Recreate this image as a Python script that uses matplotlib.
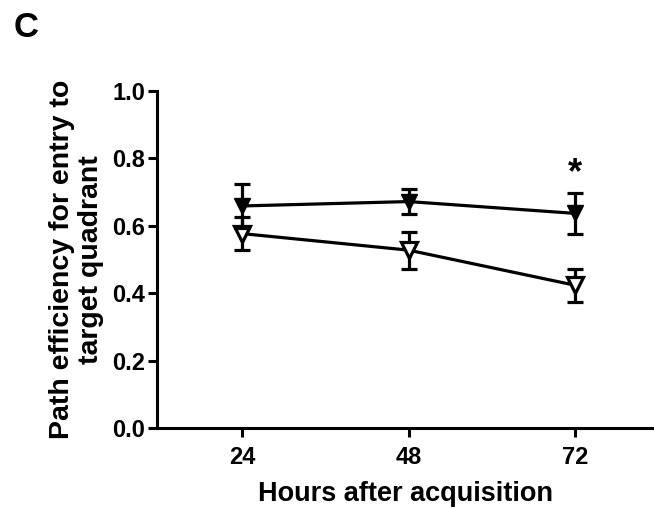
import matplotlib.pyplot as plt
import numpy as np

plt.rcParams['font.family'] = ['Liberation Sans', 'DejaVu Sans']
plt.rcParams['font.weight'] = 'bold'

hours = [24, 48, 72]
filled_mean = [0.659, 0.672, 0.637]
filled_sem = [0.065, 0.037, 0.061]
open_mean = [0.577, 0.528, 0.424]
open_sem = [0.049, 0.055, 0.049]
star_x = 72
star_y = 0.755

fig = plt.figure(figsize=(6.54, 5.08), dpi=100)
ax = fig.add_axes([0.240, 0.157, 0.760, 0.664])

ax.errorbar(hours, open_mean, yerr=open_sem, color='black', lw=2.3,
            marker='v', markersize=11, markerfacecolor='white',
            markeredgewidth=2.3, capsize=5.5, capthick=2.3, elinewidth=2.3, zorder=3)
ax.errorbar(hours, filled_mean, yerr=filled_sem, color='black', lw=2.3,
            marker='v', markersize=11, markerfacecolor='black',
            capsize=5.5, capthick=2.3, elinewidth=2.3, zorder=4)
ax.text(star_x, star_y, '*', ha='center', va='center', fontsize=26, fontweight='bold')

ax.set_xlim(11.7, 83.4)
ax.set_ylim(0, 1.0)
ax.set_xticks(hours)
ax.set_yticks(np.arange(0, 1.01, 0.2))
ax.set_yticklabels(['0.0', '0.2', '0.4', '0.6', '0.8', '1.0'])
ax.spines['top'].set_visible(False)
ax.spines['right'].set_visible(False)
ax.spines['left'].set_linewidth(2.2)
ax.spines['bottom'].set_linewidth(2.2)
ax.tick_params(width=2.2, length=6.5, labelsize=17)
ax.tick_params(axis='x', pad=6)
ax.tick_params(axis='y', pad=2)
for lbl in ax.get_xticklabels() + ax.get_yticklabels():
    lbl.set_fontweight('bold')

ax.set_xlabel('Hours after acquisition', fontsize=19.5, fontweight='bold', labelpad=9)
ax.set_ylabel('Path efficiency for entry to\ntarget quadrant', fontsize=20.5,
              fontweight='bold', labelpad=6, linespacing=1.15)

fig.text(0.04, 0.945, 'C', fontsize=25, fontweight='bold', va='center', ha='center')

plt.savefig('out.png', dpi=100)
